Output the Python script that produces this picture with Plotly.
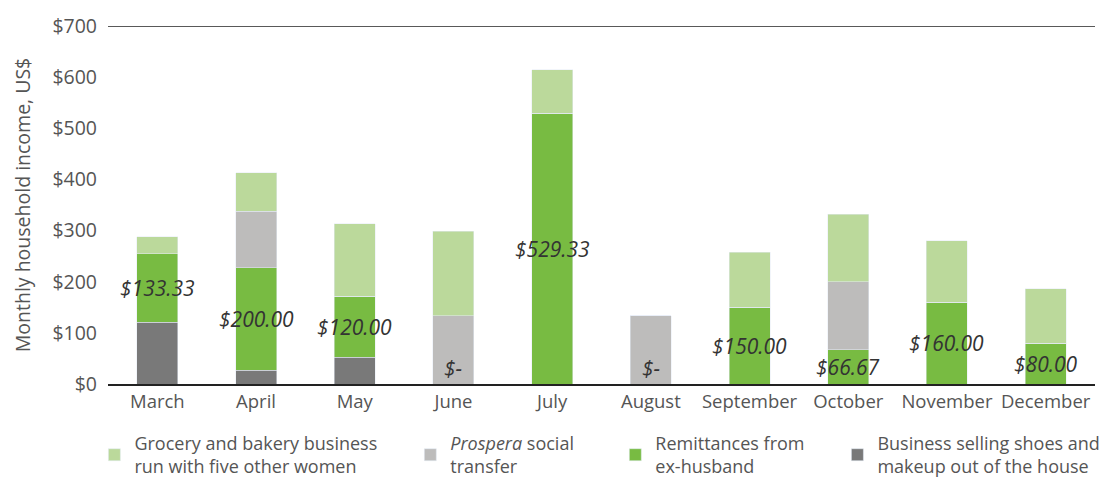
import plotly.graph_objects as go

months = ["March", "April", "May", "June", "July", "August",
          "September", "October", "November", "December"]
shoes = [121, 27, 52, 0, 0, 0, 0, 0, 0, 0]
remittances = [133.33, 200.00, 120.00, 0, 529.33, 0, 150.00, 66.67, 160.00, 80.00]
prospera = [0, 111, 0, 133, 0, 133, 0, 133, 0, 0]
grocery = [34, 75, 141, 166, 85, 0, 108, 132, 120, 106]

names = {
    "grocery": "Grocery and bakery business<br>run with five other women",
    "prospera": "<i>Prospera</i> social<br>transfer",
    "remit": "Remittances from<br>ex-husband",
    "shoes": "Business selling shoes and<br>makeup out of the house",
}
colors = {"grocery": "#BBD99B", "prospera": "#BDBCBB", "remit": "#78BB42", "shoes": "#797979"}

FONT = "Open Sans"
TXT = "#555555"

fig = go.Figure()
fig.add_trace(go.Bar(x=months, y=shoes, name=names["shoes"], marker_color=colors["shoes"],
                     legend="legend4", hoverinfo="y"))
fig.add_trace(go.Bar(x=months, y=remittances, name=names["remit"], marker_color=colors["remit"],
                     legend="legend3", hoverinfo="y"))
fig.add_trace(go.Bar(x=months, y=prospera, name=names["prospera"], marker_color=colors["prospera"],
                     legend="legend2", hoverinfo="y"))
fig.add_trace(go.Bar(x=months, y=grocery, name=names["grocery"], marker_color=colors["grocery"],
                     legend="legend", hoverinfo="y"))

for m, s, r in zip(months, shoes, remittances):
    if r == 0:
        fig.add_annotation(x=m, y=s, text="<i>$-</i>", showarrow=False, yanchor="bottom",
                           font=dict(family=FONT, size=21, color="#333333"))
    else:
        fig.add_annotation(x=m, y=s + r / 2, text=f"<i>${r:,.2f}</i>", showarrow=False,
                           yanchor="middle", font=dict(family=FONT, size=21, color="#333333"))

YMAX = 700
fig.add_shape(type="line", xref="paper", yref="y", x0=0, x1=1, y0=YMAX, y1=YMAX,
              line=dict(color="#222222", width=1.5))

leg_common = dict(orientation="h", yanchor="top", xanchor="left", y=-0.114,
                  font=dict(family=FONT, size=18, color=TXT), bgcolor="rgba(0,0,0,0)",
                  itemclick=False, itemdoubleclick=False)
fig.update_layout(
    barmode="stack",
    bargap=0.585,
    width=1101, height=479,
    margin=dict(l=108, r=6, t=26, b=95, autoexpand=False),
    paper_bgcolor="white", plot_bgcolor="white",
    font=dict(family=FONT, size=19, color=TXT),
    showlegend=True,
    legend=dict(x=-0.0138, **leg_common),
    legend2=dict(x=0.3063, **leg_common),
    legend3=dict(x=0.514, **leg_common),
    legend4=dict(x=0.739, **leg_common),
    xaxis=dict(showline=True, linecolor="#222222", linewidth=1.5, ticks="",
               tickfont=dict(family=FONT, size=18.5, color=TXT), showgrid=False),
    yaxis=dict(range=[0, YMAX], dtick=100, tickprefix="$", showgrid=False, zeroline=False,
               automargin=False,
               tickfont=dict(family=FONT, size=19.5, color=TXT), ticklabelstandoff=10,
               title=dict(text="Monthly household income, US$", standoff=16,
                          font=dict(family=FONT, size=19.5, color=TXT))),
)

fig.write_html("out.html", config={"displayModeBar": False},
               post_script="document.body.style.margin='0';document.body.style.overflow='hidden';")
